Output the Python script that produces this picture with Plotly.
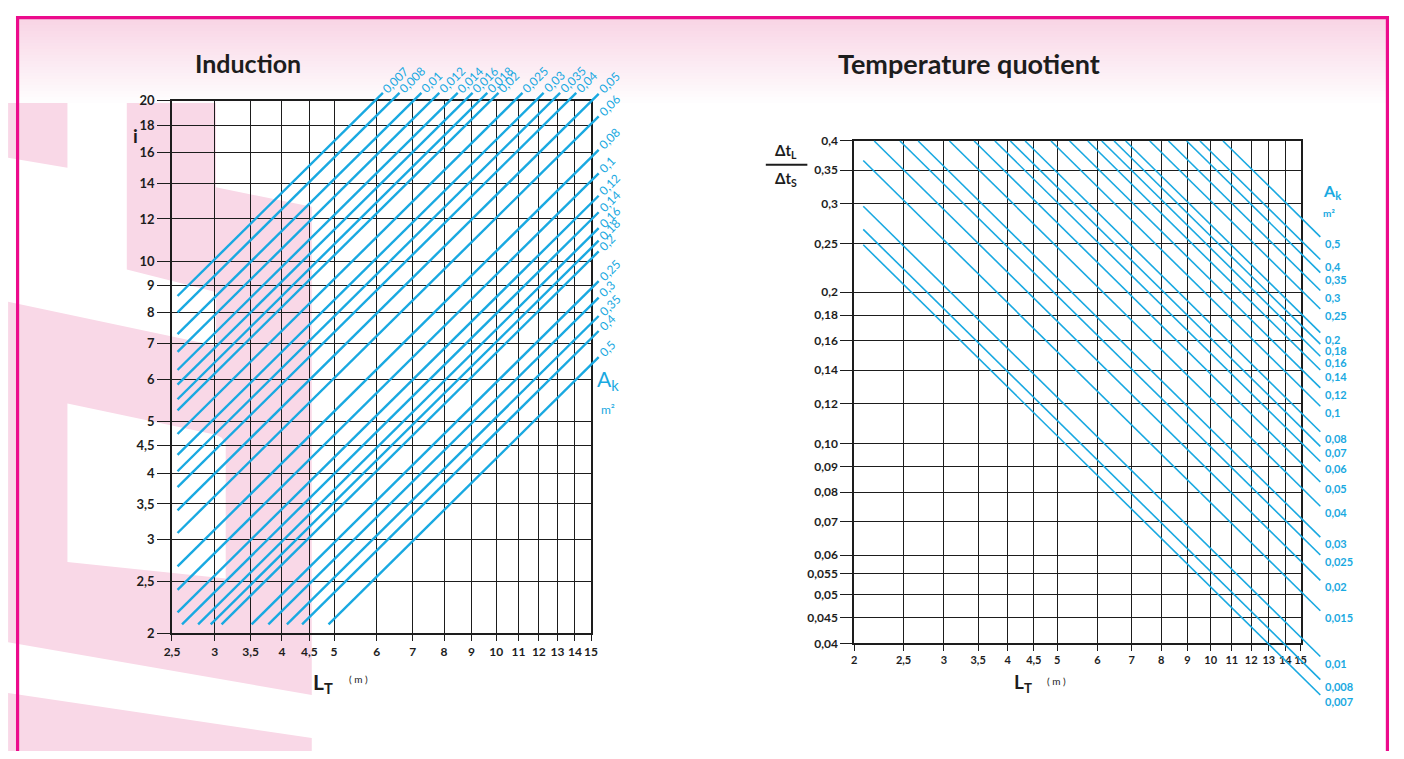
import math
import plotly.graph_objects as go

# ---------------- data ----------------
# Induction chart: A_k (m2) and the value of i read at L_T = 10 m for each line
AK_IND = [0.007, 0.008, 0.01, 0.012, 0.014, 0.016, 0.018, 0.02, 0.025, 0.03, 0.035,
          0.04, 0.05, 0.06, 0.08, 0.1, 0.12, 0.14, 0.16, 0.18, 0.2, 0.25, 0.3, 0.35, 0.4, 0.5]
I_AT_10 = [33.6, 31.3, 28.5, 26.4, 24.4, 22.9, 21.5, 20.5, 18.5, 16.9, 15.75,
           14.7, 13.3, 12.06, 10.44, 9.43, 8.56, 7.97, 7.44, 7.05, 6.73, 5.92, 5.51, 5.09, 4.77, 4.26]
IND_X_TICKS = [2.5, 3, 3.5, 4, 4.5, 5, 6, 7, 8, 9, 10, 11, 12, 13, 14, 15]
IND_X_TEXT = ["2,5", "3", "3,5", "4", "4,5", "5", "6", "7", "8", "9", "10", "11", "12", "13", "14", "15"]
IND_Y_TICKS = [2, 2.5, 3, 3.5, 4, 4.5, 5, 6, 7, 8, 9, 10, 12, 14, 16, 18, 20]
IND_Y_TEXT = ["2", "2,5", "3", "3,5", "4", "4,5", "5", "6", "7", "8", "9", "10", "12", "14", "16", "18", "20"]

# Temperature quotient chart: A_k (m2) and dtL/dtS read at L_T = 10 m
AK_TEMP = [0.007, 0.008, 0.01, 0.015, 0.02, 0.025, 0.03, 0.04, 0.05, 0.06, 0.07, 0.08,
           0.1, 0.12, 0.14, 0.16, 0.18, 0.2, 0.25, 0.3, 0.35, 0.4, 0.5]
Q_AT_10 = [0.0518, 0.0556, 0.0618, 0.0762, 0.0876, 0.0984, 0.1068, 0.1230, 0.1375, 0.1510,
           0.1619, 0.1731, 0.1945, 0.2116, 0.2297, 0.2446, 0.2586, 0.2725, 0.3038, 0.3306,
           0.3589, 0.3810, 0.4228]
TMP_X_TICKS = [2, 2.5, 3, 3.5, 4, 4.5, 5, 6, 7, 8, 9, 10, 11, 12, 13, 14, 15]
TMP_X_TEXT = ["2", "2,5", "3", "3,5", "4", "4,5", "5", "6", "7", "8", "9", "10", "11", "12", "13", "14", "15"]
TMP_Y_TICKS = [0.04, 0.045, 0.05, 0.055, 0.06, 0.07, 0.08, 0.09, 0.10, 0.12, 0.14, 0.16, 0.18,
               0.2, 0.25, 0.3, 0.35, 0.4]
TMP_Y_TEXT = ["0,04", "0,045", "0,05", "0,055", "0,06", "0,07", "0,08", "0,09", "0,10", "0,12",
              "0,14", "0,16", "0,18", "0,2", "0,25", "0,3", "0,35", "0,4"]

# line extents
IND_L_MIN, IND_I_MIN, IND_L_MAX, IND_I_MAX = 2.56, 2.08, 15.5, 20.7
TMP_L_MIN, TMP_Q_MAX, TMP_L_END = 2.084, 0.4, 16.4

# ---------------- layout helpers ----------------
# the page places the figure 8 px in from the window corner
OX, OY = 8, 8
W, H = 1388, 743
BLUE = "#19A9E1"
INK = "#1d1d1d"
PINK = "#F9D8E7"
FRAME = "#EC0B8C"


def xd(px):
    return (px - OX) / W


def yd(py):
    return 1 - (py - OY) / H


def ext_range(a, b, g0, g1, p0, p1):
    k = (b - a) / (g1 - g0)
    return [a + (p0 - g0) * k, a + (p1 - g0) * k]


def fmt(v):
    s = ("%g" % v)
    return s.replace(".", ",")


lg = math.log10
fig = go.Figure()

# grid geometry in window pixels
IX0, IX1, IYB, IYT = 165.7, 589.3, 639.0, 94.7
TX0, TX1, TYB, TYT = 855.3, 1306.6, 649.3, 135.7

common = dict(type="log", showline=True, mirror=True, linecolor=INK, linewidth=1.6,
              showgrid=True, gridcolor=INK, gridwidth=1.3, zeroline=False,
              ticks="outside", tickcolor=INK, tickwidth=1.3, fixedrange=True)


def tf(size):
    return dict(family="Lato", size=size, color=INK, weight="bold")


layout = dict(
    width=W, height=H, autosize=False, margin=dict(l=0, r=0, t=0, b=0, pad=0),
    paper_bgcolor="white", plot_bgcolor="rgba(0,0,0,0)", showlegend=False,
    xaxis=dict(domain=[xd(IX0), xd(IX1)], range=[lg(2.5), lg(15)], anchor="y",
               tickvals=IND_X_TICKS, ticktext=IND_X_TEXT, ticklen=6, tickfont=tf(12), **common),
    yaxis=dict(domain=[yd(IYB), yd(IYT)], range=[lg(2), lg(20)], anchor="x",
               tickvals=IND_Y_TICKS, ticktext=IND_Y_TEXT, ticklen=13, tickfont=tf(13), **common),
    xaxis2=dict(domain=[xd(TX0), xd(TX1)], range=[lg(2), lg(15)], anchor="y2",
                tickvals=TMP_X_TICKS, ticktext=TMP_X_TEXT, ticklen=6, tickfont=tf(11), **common),
    yaxis2=dict(domain=[yd(TYB), yd(TYT)], range=[lg(0.04), lg(0.4)], anchor="x2",
                tickvals=TMP_Y_TICKS, ticktext=TMP_Y_TEXT, ticklen=12, tickfont=tf(12), **common),
)

# overlay axes (same scales, larger area) for the blue lines
LP = (140, 650, 670, 60)
TP = (840, 1380, 745, 110)
layout["xaxis3"] = dict(type="log", visible=False, anchor="y3", fixedrange=True,
                        domain=[xd(LP[0]), xd(LP[1])],
                        range=ext_range(lg(2.5), lg(15), IX0, IX1, LP[0], LP[1]))
layout["yaxis3"] = dict(type="log", visible=False, anchor="x3", fixedrange=True,
                        domain=[yd(LP[2]), yd(LP[3])],
                        range=ext_range(lg(2), lg(20), -IYB, -IYT, -LP[2], -LP[3]))
layout["xaxis4"] = dict(type="log", visible=False, anchor="y4", fixedrange=True,
                        domain=[xd(TP[0]), xd(TP[1])],
                        range=ext_range(lg(2), lg(15), TX0, TX1, TP[0], TP[1]))
layout["yaxis4"] = dict(type="log", visible=False, anchor="x4", fixedrange=True,
                        domain=[yd(TP[2]), yd(TP[3])],
                        range=ext_range(lg(0.04), lg(0.4), -TYB, -TYT, -TP[2], -TP[3]))

# dummy traces so that the grid subplots are drawn
fig.add_trace(go.Scatter(x=[3], y=[3], mode="markers", marker=dict(opacity=0),
                         xaxis="x", yaxis="y", hoverinfo="skip"))
fig.add_trace(go.Scatter(x=[3], y=[0.1], mode="markers", marker=dict(opacity=0),
                         xaxis="x2", yaxis="y2", hoverinfo="skip"))

annotations = []

# induction lines: i proportional to L_T
for ak, i10 in zip(AK_IND, I_AT_10):
    L0 = max(IND_L_MIN, IND_I_MIN * 10 / i10)
    L1 = min(IND_L_MAX, IND_I_MAX * 10 / i10)
    fig.add_trace(go.Scatter(x=[L0, L1], y=[i10 * L0 / 10, i10 * L1 / 10], mode="lines",
                             line=dict(color=BLUE, width=2.4), xaxis="x3", yaxis="y3",
                             hoverinfo="skip"))
    txt = fmt(ak)
    w = len(txt) * 6.2
    d = (3 + w / 2) * 0.7071
    annotations.append(dict(x=lg(L1), y=lg(i10 * L1 / 10), xref="x3", yref="y3", text=txt,
                            showarrow=False, textangle=-45, xanchor="center", yanchor="middle",
                            xshift=d, yshift=d,
                            font=dict(family="Lato", size=12, color=BLUE)))

# temperature quotient lines: ratio inversely proportional to L_T
for ak, q10 in zip(AK_TEMP, Q_AT_10):
    L0 = max(TMP_L_MIN, 10 * q10 / TMP_Q_MAX)
    L1 = TMP_L_END
    fig.add_trace(go.Scatter(x=[L0, L1], y=[q10 * 10 / L0, q10 * 10 / L1], mode="lines",
                             line=dict(color=BLUE, width=1.6), xaxis="x4", yaxis="y4",
                             hoverinfo="skip"))
    annotations.append(dict(x=lg(L1), y=lg(q10 * 10 / L1), xref="x4", yref="y4", text=fmt(ak),
                            showarrow=False, xanchor="left", yanchor="top", xshift=3, yshift=2,
                            font=dict(family="Lato", size=11, color=BLUE, weight="bold")))


def pa(px, py, text, size, color=INK, bold=True, xanchor="center", yanchor="middle", family="Lato"):
    annotations.append(dict(x=xd(px), y=yd(py), xref="paper", yref="paper", text=text,
                            showarrow=False, xanchor=xanchor, yanchor=yanchor,
                            font=dict(family=family, size=size, color=color,
                                      weight="bold" if bold else "normal")))


# titles
pa(243, 56, "Induction", 25)
pa(971, 57, "Temperature quotient", 27)
# axis titles
pa(129, 130, "i", 19)
pa(318, 690, "L<sub>T</sub>", 21)
pa(354, 686, "( m )", 10, bold=False)
pa(1026, 690, "L<sub>T</sub>", 19)
pa(1060, 688, "( m )", 10, bold=False)
pa(786, 146, "Δt<sub>L</sub>", 15)
pa(786, 175, "Δt<sub>S</sub>", 15)
# A_k legends
pa(606, 380, "A<sub>k</sub>", 21, color=BLUE, bold=False)
pa(606, 410, "m²", 12, color=BLUE, bold=False)
pa(1338, 187, "A<sub>k</sub>", 16, color=BLUE)
pa(1335, 209, "m²", 10, color=BLUE)

shapes = []
# header gradient
N = 30
for k in range(N):
    t = k / (N - 1)
    r = int(249 + (255 - 249) * t)
    g = int(212 + (255 - 212) * t)
    b = int(229 + (255 - 229) * t)
    y0 = 8 + k * 92 / N
    y1 = 8 + (k + 1) * 92 / N + 0.5
    shapes.append(dict(type="rect", xref="paper", yref="paper", x0=0, x1=1, y0=yd(y1), y1=yd(y0),
                       fillcolor=f"rgb({r},{g},{b})", line=dict(width=0), layer="below"))


def poly(points, color=PINK):
    p = "M " + " L ".join(f"{xd(x):.5f},{yd(y):.5f}" for x, y in points) + " Z"
    shapes.append(dict(type="path", xref="paper", yref="paper", path=p, fillcolor=color,
                       line=dict(width=0), layer="below"))


poly([(0, 97), (60, 97), (60, 163), (0, 153)])
poly([(120, 97), (210, 97), (210, 183), (307, 203), (307, 702), (0, 648), (0, 300),
      (210, 345), (210, 290), (120, 267)])
poly([(60, 404), (210, 436), (216, 439), (220, 446), (220, 583), (60, 566)], color="white")
poly([(0, 700), (307, 746), (307, 760), (0, 760)])

# frame
shapes.append(dict(type="rect", xref="paper", yref="paper", x0=xd(9.6), x1=xd(1394.4), y0=yd(780),
                   y1=yd(9.6), line=dict(color=FRAME, width=3.2), fillcolor="rgba(0,0,0,0)",
                   layer="above"))
# fraction bar
shapes.append(dict(type="line", xref="paper", yref="paper", x0=xd(766), x1=xd(808), y0=yd(160),
                   y1=yd(160), line=dict(color=INK, width=2)))

layout["annotations"] = annotations
layout["shapes"] = shapes
fig.update_layout(**layout)
fig.write_html("out.html", include_plotlyjs=True, config={"displayModeBar": False})
